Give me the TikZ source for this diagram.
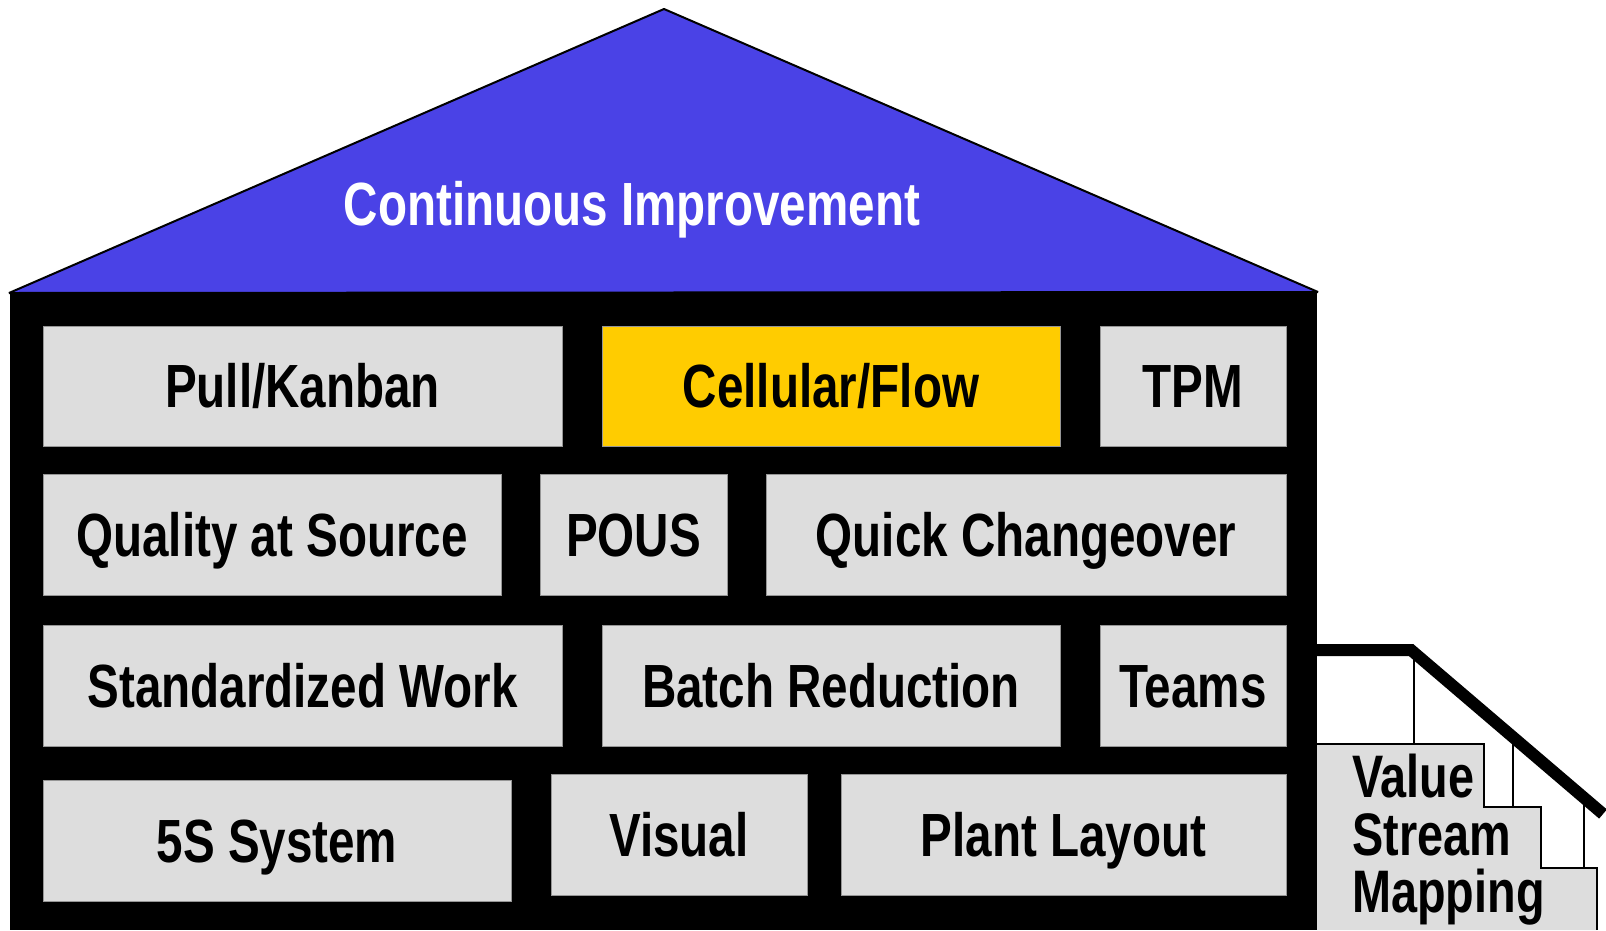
\documentclass[tikz,border=0pt]{standalone}
\usepackage{fontspec}
\setmainfont[FakeStretch=0.78]{Liberation Sans}
\definecolor{roofblue}{RGB}{74,66,230}
\definecolor{boxgray}{RGB}{221,221,221}
\definecolor{cellyellow}{RGB}{255,204,0}
\definecolor{edgegray}{RGB}{150,150,150}
\tikzset{
  box/.style={draw=edgegray, line width=1pt, fill=boxgray, inner sep=0pt,
    text height=43.7pt, text depth=0pt,
    font=\fontsize{61}{64}\selectfont\bfseries},
  stairtext/.style={anchor=base west, inner sep=0pt,
    font=\fontsize{60}{58}\selectfont\bfseries},
  thinline/.style={draw=black, line width=1.5pt},
}
\begin{document}
\begin{tikzpicture}[x=1pt,y=-1pt]
\useasboundingbox (0,0) rectangle (1606,930);
% house body
\fill[black] (10,292) rectangle (1317,930);
% roof
\filldraw[fill=roofblue, draw=black, line width=2pt, line join=bevel] (9,293) -- (664,9) -- (1318,292) -- cycle;
\node[anchor=base, inner sep=0pt, text=white, font=\fontsize{61}{64}\selectfont\bfseries] (roof) at (632,225) {Continuous Improvement};
% row 1
\node[box, minimum width=519pt, minimum height=120pt] (pull) at (302.5,386) {Pull/Kanban};
\node[box, fill=cellyellow, minimum width=458pt, minimum height=120pt] (cell) at (831,386) {Cellular/Flow};
\node[box, minimum width=186pt, minimum height=120pt] (tpm) at (1193,386) {TPM};
% row 2
\node[box, minimum width=458pt, minimum height=121pt] (qas) at (272,534.5) {Quality at Source};
\node[box, minimum width=187pt, minimum height=121pt] (pous) at (633.5,534.5) {POUS};
\node[box, minimum width=520pt, minimum height=121pt] (qco) at (1026,534.5) {Quick Changeover};
% row 3
\node[box, minimum width=519pt, minimum height=121pt] (std) at (302.5,685.5) {Standardized Work};
\node[box, minimum width=458pt, minimum height=121pt] (batch) at (831,685.5) {Batch Reduction};
\node[box, minimum width=186pt, minimum height=121pt] (teams) at (1193,685.5) {Teams};
% row 4
\node[box, minimum width=468pt, minimum height=121pt] (fives) at (277,840.5) {5S System};
\node[box, minimum width=256pt, minimum height=121pt] (visual) at (679,834.5) {Visual};
\node[box, minimum width=445pt, minimum height=121pt] (plant) at (1063.5,834.5) {Plant Layout};
% stairs
\fill[boxgray] (1317,744) -- (1484,744) -- (1484,807) -- (1541,807) -- (1541,868) -- (1597,868) -- (1597,930) -- (1317,930) -- cycle;
\draw[thinline] (1317,744) -- (1484,744) -- (1484,807) -- (1541,807) -- (1541,868) -- (1597,868) -- (1597,930);
\draw[thinline] (1414,650) -- (1414,744);
\draw[thinline] (1513,737) -- (1513,807);
\draw[thinline] (1584,797) -- (1584,868);
\draw[line width=12pt, line join=miter] (1310,650) -- (1411,650) -- (1603,814);
\node[stairtext] (vsm1) at (1352,797) {Value};
\node[stairtext] (vsm2) at (1352,855) {Stream};
\node[stairtext] (vsm3) at (1352,912) {Mapping};
\end{tikzpicture}
\end{document}
